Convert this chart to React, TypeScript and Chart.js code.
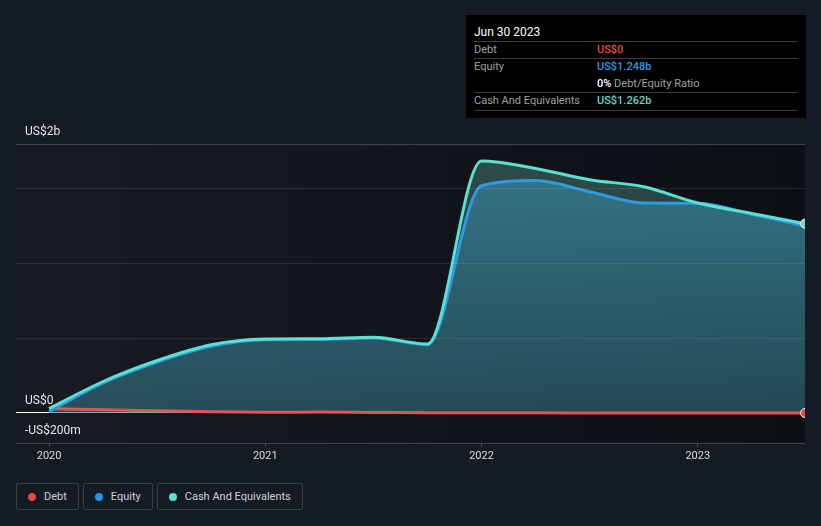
import React, { useEffect, useRef } from 'react';
import { Chart, registerables } from 'chart.js';
Chart.register(...registerables);

// decimal-year positions of the quarterly reports
const periods = [2020.0, 2020.25, 2020.5, 2020.75, 2021.0, 2021.25, 2021.5, 2021.75, 2022.0, 2022.25, 2022.5, 2022.75, 2023.0, 2023.25, 2023.496];
// values in US$ billions
const cashValues = [0.03, 0.21, 0.35, 0.455, 0.493, 0.495, 0.505, 0.46, 1.68, 1.63, 1.555, 1.508, 1.4, 1.33, 1.262];
const equityValues = [0.01, 0.2, 0.34, 0.445, 0.488, 0.49, 0.5, 0.455, 1.515, 1.55, 1.475, 1.4, 1.398, 1.325, 1.248];
const debtValues = [0.03, 0.022, 0.015, 0.008, 0.005, 0.006, 0.004, 0.002, 0.001, 0.001, 0.0005, 0.0005, 0.0003, 0.0002, 0];

const xTickYears = [2020, 2021, 2022, 2023];
const yGridValues = [-0.2, 0, 0.5, 1, 1.5, 1.7933];
const yLabels: { value: number; label: string }[] = [
  { value: 1.7933, label: 'US$2b' },
  { value: 0, label: 'US$0' },
  { value: -0.2, label: '-US$200m' },
];
const X_MIN = 2019.847;
const X_MAX = 2023.496;

const legendItems = [
  { label: 'Debt', color: '#e84545' },
  { label: 'Equity', color: '#2394df' },
  { label: 'Cash And Equivalents', color: '#5ce0cf' },
];

const FONT = 'Roboto, "Noto Sans", sans-serif';

const bgPlugin = {
  id: 'bgPlugin',
  beforeDraw(chart: any) {
    const { ctx, chartArea: a } = chart;
    const g = ctx.createLinearGradient(a.left, 0, a.right, 0);
    g.addColorStop(0, '#161b24');
    g.addColorStop(1, '#0c0f14');
    ctx.save();
    ctx.fillStyle = g;
    ctx.fillRect(a.left, a.top, a.right - a.left, a.bottom - a.top);
    ctx.restore();
  },
  afterDatasetsDraw(chart: any) {
    const { ctx, chartArea: a, scales } = chart;
    const y = scales.y;
    ctx.save();
    ctx.strokeStyle = 'rgba(255,255,255,0.09)';
    ctx.lineWidth = 1;
    [0.5, 1, 1.5].forEach((v) => {
      const py = Math.round(y.getPixelForValue(v)) + 0.5;
      ctx.beginPath();
      ctx.moveTo(a.left, py);
      ctx.lineTo(a.right, py);
      ctx.stroke();
    });
    ctx.fillStyle = '#e6e6e6';
    ctx.font = `12px ${FONT}`;
    ctx.textBaseline = 'middle';
    ctx.textAlign = 'left';
    yLabels.forEach((l) => {
      const py = y.getPixelForValue(l.value);
      ctx.fillText(l.label, a.left + 9, py - 12);
    });
    ctx.restore();
  },
};

function vGrad(chart: any, stops: [number, string][]) {
  const a = chart.chartArea;
  if (!a) return 'transparent';
  const g = chart.ctx.createLinearGradient(0, a.top, 0, a.bottom);
  stops.forEach(([o, c]) => g.addColorStop(o, c));
  return g;
}

export default function App() {
  const ref = useRef<HTMLCanvasElement>(null);
  useEffect(() => {
    const cashPts = periods.map((x, i) => ({ x, y: cashValues[i] }));
    const eqPts = periods.map((x, i) => ({ x, y: equityValues[i] }));
    const debtPts = periods.map((x, i) => ({ x, y: debtValues[i] }));
    const last = periods.length - 1;
    const chart = new Chart(ref.current!, {
      type: 'line',
      data: {
        datasets: [
          {
            label: 'Cash And Equivalents',
            data: cashPts,
            borderColor: '#5ce0cf',
            borderWidth: 3,
            fill: false,
            cubicInterpolationMode: 'monotone',
            pointRadius: (c: any) => (c.dataIndex === last ? 4.5 : 0),
            pointBackgroundColor: '#5ce0cf',
            pointBorderColor: '#ffffff',
            pointBorderWidth: 1,
          } as any,
          {
            label: 'Equity',
            data: eqPts,
            borderColor: '#2e9be0',
            borderWidth: 3,
            fill: false,
            cubicInterpolationMode: 'monotone',
            pointRadius: 0,
          },
          {
            label: 'Debt',
            data: debtPts,
            borderColor: '#e05555',
            borderWidth: 3,
            fill: false,
            cubicInterpolationMode: 'monotone',
            pointRadius: (c: any) => (c.dataIndex === last ? 4.5 : 0),
            pointBackgroundColor: '#e84545',
            pointBorderColor: '#ffffff',
            pointBorderWidth: 1,
          } as any,
          {
            label: 'equityFill',
            data: eqPts,
            borderWidth: 0,
            borderColor: 'transparent',
            pointRadius: 0,
            cubicInterpolationMode: 'monotone',
            fill: 'origin',
            backgroundColor: (c: any) =>
              vGrad(c.chart, [
                [0, 'rgba(55,135,160,0.75)'],
                [1, 'rgba(45,100,120,0.45)'],
              ]),
          },
          {
            label: 'cashFill',
            data: cashPts,
            borderWidth: 0,
            borderColor: 'transparent',
            pointRadius: 0,
            cubicInterpolationMode: 'monotone',
            fill: 'origin',
            backgroundColor: (c: any) =>
              vGrad(c.chart, [
                [0, 'rgba(95,175,155,0.38)'],
                [1, 'rgba(70,140,140,0.2)'],
              ]),
          },
        ],
      },
      options: {
        animation: false,
        responsive: false,
        maintainAspectRatio: false,
        events: [],
        layout: { padding: { left: 16, right: 16, top: 144, bottom: 0 } },
        plugins: { legend: { display: false }, tooltip: { enabled: false } },
        scales: {
          x: {
            type: 'linear',
            min: X_MIN,
            max: X_MAX,
            afterBuildTicks: (s: any) => {
              s.ticks = xTickYears.map((v) => ({ value: v }));
            },
            afterFit: (s: any) => {
              s.height = 27;
            },
            ticks: {
              color: '#dcdcdc',
              font: { family: FONT, size: 11 },
              padding: 3,
              maxRotation: 0,
              callback: (v: any) => String(v),
            },
            grid: { drawOnChartArea: false, drawTicks: true, tickLength: 4, color: '#4a4f57' },
            border: { display: false },
          },
          y: {
            type: 'linear',
            min: -0.2,
            max: 1.7933,
            afterBuildTicks: (s: any) => {
              s.ticks = yGridValues.map((v) => ({ value: v }));
            },
            afterFit: (s: any) => {
              s.width = 0;
            },
            ticks: { display: false },
            grid: {
              drawTicks: false,
              color: (c: any) => {
                const v = c.tick && c.tick.value;
                if (v === 0) return '#ffffff';
                if (v === -0.2 || v === 1.7933) return '#3f444c';
                return 'rgba(0,0,0,0)';
              },
            },
            border: { display: false },
          },
        },
      },
      plugins: [bgPlugin],
    } as any);
    return () => chart.destroy();
  }, []);

  const rowLine = (top: number) => (
    <div style={{ position: 'absolute', left: 8, right: 8, top, height: 1, background: '#3d3d3d' }} />
  );
  const labelStyle: React.CSSProperties = { position: 'absolute', left: 8, color: '#a0a0a0' };
  const valueStyle: React.CSSProperties = { position: 'absolute', left: 131, fontWeight: 500 };

  return (
    <div
      style={{
        position: 'absolute',
        left: 0,
        top: 0,
        width: 821,
        height: 526,
        background: '#151b25',
        fontFamily: FONT,
        overflow: 'hidden',
      }}
    >
      <canvas ref={ref} width={821} height={470} style={{ position: 'absolute', left: 0, top: 0, display: 'block' }} />
      <div
        style={{
          position: 'absolute',
          left: 466,
          top: 15,
          width: 340,
          height: 103,
          background: '#000000',
          fontSize: 11,
          lineHeight: '14px',
        }}
      >
        <div style={{ position: 'absolute', left: 8, top: 10, color: '#ffffff', fontSize: 12 }}>Jun 30 2023</div>
        {rowLine(26)}
        <div style={{ ...labelStyle, top: 28 }}>Debt</div>
        <div style={{ ...valueStyle, top: 28, color: '#e84a4a' }}>US$0</div>
        {rowLine(43)}
        <div style={{ ...labelStyle, top: 45 }}>Equity</div>
        <div style={{ ...valueStyle, top: 45, color: '#2e9be6' }}>US$1.248b</div>
        <div style={{ position: 'absolute', left: 131, top: 62, color: '#a0a0a0' }}>
          <span style={{ color: '#ffffff', fontWeight: 500 }}>0%</span> Debt/Equity Ratio
        </div>
        {rowLine(77)}
        <div style={{ ...labelStyle, top: 79 }}>Cash And Equivalents</div>
        <div style={{ ...valueStyle, top: 79, color: '#5fd9c9' }}>US$1.262b</div>
        {rowLine(95)}
      </div>
      <div style={{ position: 'absolute', left: 16, top: 483, display: 'flex', gap: 4 }}>
        {legendItems.map((it) => (
          <div
            key={it.label}
            style={{
              display: 'flex',
              alignItems: 'center',
              height: 27,
              padding: '0 11px',
              border: '1px solid #3a3f48',
              borderRadius: 2,
              color: '#cfd2d6',
              fontSize: 11,
              boxSizing: 'border-box',
            }}
          >
            <span
              style={{
                width: 8,
                height: 8,
                borderRadius: '50%',
                background: it.color,
                display: 'inline-block',
                marginRight: 8,
              }}
            />
            {it.label}
          </div>
        ))}
      </div>
    </div>
  );
}
